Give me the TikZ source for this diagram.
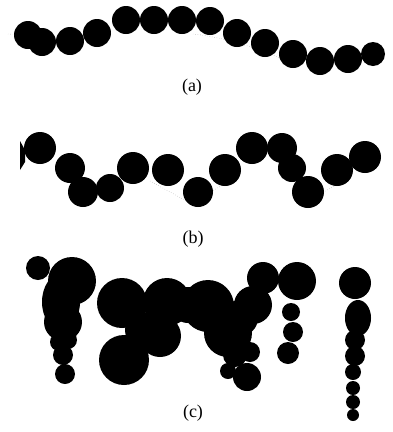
\documentclass[tikz,border=0pt]{standalone}
\usepackage{fontspec}
\setmainfont{Liberation Serif}
\begin{document}
\begin{tikzpicture}[x=1pt,y=-1pt,
  ball/.style={fill=black},
  trace/.style={draw=black!45,line width=0.4pt,dotted},
  caption/.style={font=\fontsize{18}{20}\selectfont,inner sep=0pt}]
\useasboundingbox (0,0) rectangle (392,432);
% ---------- (a) ----------
\draw[trace] (8,34) -- (28,35);
\draw[trace] (193,34) .. controls (230,38) and (260,50) .. (280,58);
\foreach \x/\y/\r in {28/35/14,42/42/14,70/41/14,97/33/14,126/20/14,154/20/14,182/20/14,210/21/14,237/33/14,265/43/14,293/54/14,320/61/14,348/59/14,373/54/12}
  \fill[ball] (\x,\y) circle (\r);
\node[caption] (capa) at (192,87) {(a)};
% ---------- (b) ----------
\draw[trace] (150,181) -- (190,203) -- (230,181);
\draw[trace] (300,205) -- (340,183);
\fill[ball] (20,141) -- (25,150) -- (25,162) -- (20,170) -- cycle;
\foreach \x/\y/\r in {40/148/16,70/168/15,83/192/15,110/188/14,133/168/16,168/170/16,198/192/15,225/170/16,252/148/16,282/148/15,292/168/14,308/192/16,337/170/16,365/157/16}
  \fill[ball] (\x,\y) circle (\r);
\node[caption] (capb) at (193,239) {(b)};
% ---------- (c) ----------
% left column
\fill[ball] (61,302) ellipse (19 and 28);
\foreach \x/\y/\r in {38/268/12,72/281/24,63/322/19,63/355/10,65/374/10,59/342/9,68/340/9}
  \fill[ball] (\x,\y) circle (\r);
% middle group
\foreach \x/\y/\r in {122/303/25,167/302/24,124/360/25,160/336/21,143/330/18,188/305/18,208/306/26,228/333/24,253/305/19,263/278/16,240/318/18,247/377/14,228/371/8,235/355/12,250/352/10}
  \fill[ball] (\x,\y) circle (\r);
% right-middle column
\foreach \x/\y/\r in {297/281/19,291/312/9,293/332/10,288/353/11}
  \fill[ball] (\x,\y) circle (\r);
% right column
\fill[ball] (358,318) ellipse (13 and 18);
\foreach \x/\y/\r in {355/283/16,358/318/13,355/340/10,355/356/10,353/372/8,353/388/7,353/402/7,353/415/6}
  \fill[ball] (\x,\y) circle (\r);
\node[caption] (capc) at (193,413) {(c)};
\end{tikzpicture}
\end{document}
